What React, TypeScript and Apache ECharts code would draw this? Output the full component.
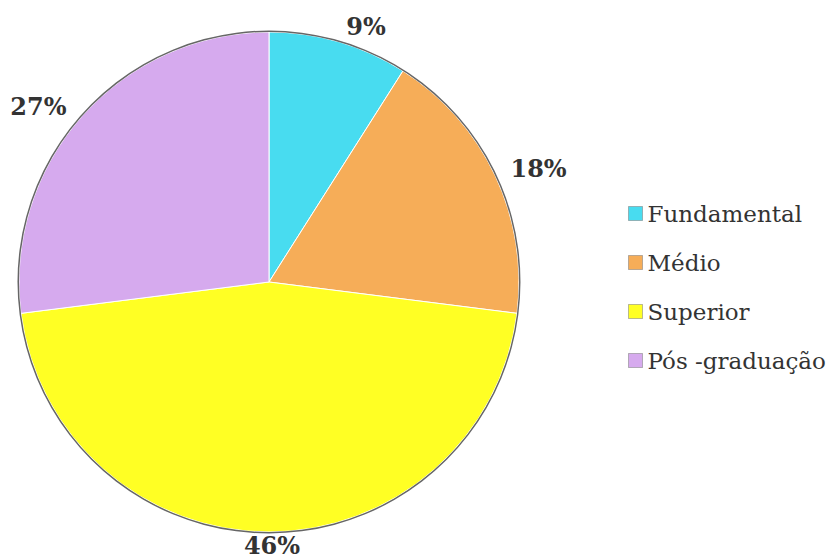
import React, { useEffect, useRef } from "react";
import * as echarts from "echarts";

const categories = ["Fundamental", "Médio", "Superior", "Pós -graduação"];
const values = [9, 18, 46, 27];
const colors = ["#48dcf0", "#f6ad58", "#ffff24", "#d6aaee"];

const SERIF = "DejaVu Serif";

export default function App() {
  const ref = useRef<HTMLDivElement>(null);
  useEffect(() => {
    document.body.style.margin = "0";
    if (!ref.current) return;
    const chart = echarts.init(ref.current, null, { renderer: "svg" });
    const data = categories.map((name, i) => ({
      name,
      value: values[i],
      itemStyle: { color: colors[i] },
    }));
    chart.setOption({
      animation: false,
      backgroundColor: "#ffffff",
      legend: {
        orient: "vertical",
        left: 623,
        top: 197,
        itemGap: 26,
        itemWidth: 14,
        itemHeight: 14,
        icon: "rect",
        data: categories,
        itemStyle: { borderColor: "#777", borderWidth: 1, borderType: "dotted" },
        textStyle: {
          fontFamily: SERIF,
          fontSize: 23,
          color: "#333",
        },
      },
      series: [
        {
          type: "pie",
          center: [269, 282],
          radius: [0, 250],
          startAngle: 90,
          clockwise: true,
          data,
          itemStyle: { borderColor: "#ffffff", borderWidth: 1 },
          label: {
            show: true,
            position: "outside",
            formatter: "{d}%",
            fontFamily: SERIF,
            fontWeight: "bold",
            fontSize: 24,
            color: "#333",
            overflow: "none",
            distanceToLabelLine: 2,
          },
          labelLine: { show: false, length: 16, length2: 1 },
          labelLayout: (params: any) =>
            params.dataIndex === 2 ? { align: "center" } : {},
          emphasis: { disabled: true },
        },
        {
          type: "pie",
          center: [269, 282],
          radius: [250, 251.5],
          silent: true,
          label: { show: false },
          labelLine: { show: false },
          data: [{ value: 1, name: "_outline", itemStyle: { color: "#666" } }],
          emphasis: { disabled: true },
        },
      ],
    });
    return () => chart.dispose();
  }, []);
  return <div ref={ref} style={{ width: 839, height: 558 }} />;
}
